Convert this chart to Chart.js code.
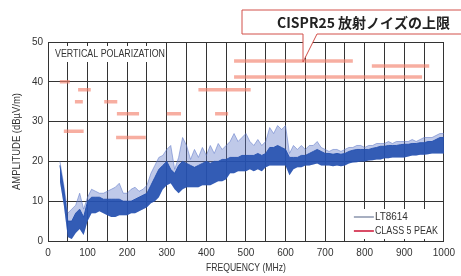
<!DOCTYPE html>
<html>
<head>
<meta charset="utf-8">
<script src="https://cdn.jsdelivr.net/npm/chart.js@4.4.0/dist/chart.umd.min.js"></script>
<style>
  body { margin: 0; background: #fff; }
  #wrap { width: 461px; height: 276px; }
</style>
</head>
<body>
<div id="wrap"><canvas id="chart" width="461" height="276"></canvas></div>
<script>
// frequency points (MHz)
const freq = [30,40,50,60,70,80,90,100,110,120,
  130,140,150,160,170,180,190,200,210,220,
  230,240,250,260,270,280,290,300,310,320,
  330,340,350,360,370,380,390,400,410,420,
  430,440,450,460,470,480,490,500,510,520,
  530,540,550,560,570,580,590,600,610,620,
  630,640,650,660,670,680,690,700,710,720,
  730,740,750,760,770,780,790,800,810,820,
  830,840,850,860,870,880,890,900,910,920,
  930,940,950,960,970,980,990,1000];

// LT8614 trace: bottom / top of the dense band, and the peaks above it (dBuV/m)
const coreLo = [15,9,1,0.5,2,3,1.5,5,7,7,
  7.5,7,6.5,6,6,6.5,6.5,6.5,7,7,
  7.5,8,8.5,9.5,10,11,13,14,14.5,13,
  12,13,13.5,13.5,13.5,13.5,14,14,14,14.5,
  15,15,15.5,17,17,17.5,17.5,17.5,18,17.5,
  18,17.5,18.5,19,19,19,19,19,16.5,18,
  18.5,18.5,19,19,19.2,19.5,19,19,19,18.8,
  19,18.8,19,19.5,19.7,19.8,20,20,20.2,20.3,
  20.5,20.5,20.8,20.8,21,21,21,21,21.2,21.5,
  21.5,21.7,21.7,21.8,22,22,22,22];
const coreHi = [19,13,5,5,7,8,6,10,11,11,
  11,10.5,10.5,10.5,10.5,10.5,10,10,10,10.5,
  11,11.5,12,14,16,18,19,20,18,17,
  19,20,19.5,19,18.5,19,19.5,20,19.5,20,
  20,20.5,20.5,21,21,21,21.5,21.5,21.5,21.5,
  22,21.5,22,23.5,23.5,24,23.5,23,21,21,
  21,21.5,21.5,22,22.5,23,22.5,22,22,21.8,
  22,21.8,22,22.5,22.8,23,23,23,23,23.3,
  23.5,23.8,23.8,24,24,24,24.2,24.3,24.3,24.5,
  24.5,24.7,24.7,25,25,25.5,26,26];
const peakHi = [20,14,7,8,9,12,8,11,13,12.5,
  12,12,12.5,13,13.5,14.5,12,12,13,13.5,
  12.5,13,14,17,19,21,21.5,23,24,18,
  21,26,24,20.5,23,21,23.5,21.5,24,22,
  24.5,23,24,25,27,25,26,27,25,24,
  25.5,24,25,28.5,27,29,28,29,22,24,
  23,24,23,24,24,25,23.5,23,22.5,23,
  23,22.5,23,23.5,23.5,24,24,23.5,24,24,
  24.5,24.5,24.5,25,24.5,25,25,25,25,25.5,
  25,25.5,26,26,26,26.5,27,27];

// CISPR25 class 5 peak limit segments
const limStart = [30, 68, 76, 40, 142, 174, 172, 300, 380, 422, 470, 470, 818];
const limEnd   = [55, 88, 108, 90, 175, 230, 247, 336, 512, 455, 770, 945, 963];
const limLevel = [40, 35, 38, 27.6, 35, 32, 26, 32, 38, 32, 45.2, 41.2, 44];

const xTicks = [0,100,200,300,400,500,600,700,800,900,1000];

const pts = arr => freq.map((f, i) => ({ x: f, y: arr[i] }));
let limData = [];
limStart.forEach((s, i) => {
  limData.push({ x: s, y: limLevel[i] }, { x: limEnd[i], y: limLevel[i] }, { x: limEnd[i], y: null });
});

const sans = '"Liberation Sans", Arial, sans-serif';

const decor = {
  id: 'decor',
  beforeDraw(chart) {
    const ctx = chart.ctx;
    ctx.save();
    ctx.fillStyle = '#fff';
    ctx.fillRect(0, 0, chart.width, chart.height);
    ctx.restore();
  },
  beforeDatasetsDraw(chart) {
    const ctx = chart.ctx, a = chart.chartArea;
    ctx.save();
    // white boxes over the grid
    ctx.fillStyle = '#fff';
    ctx.fillRect(a.left + 1, a.top + 4, 117, 16);
    ctx.fillRect(a.right - 96, a.bottom - 32, 95, 30);
    ctx.fillStyle = '#333';
    ctx.textBaseline = 'middle';
    ctx.font = '10px ' + sans;
    ctx.fillText('VERTICAL POLARIZATION', a.left + 7, a.top + 12, 110);
    // legend
    ctx.font = '11px ' + sans;
    ctx.lineWidth = 1.5;
    ctx.strokeStyle = '#8a94ad';
    ctx.beginPath(); ctx.moveTo(a.right - 90, a.bottom - 24); ctx.lineTo(a.right - 70, a.bottom - 24); ctx.stroke();
    ctx.strokeStyle = '#cc1133';
    ctx.beginPath(); ctx.moveTo(a.right - 90, a.bottom - 10); ctx.lineTo(a.right - 70, a.bottom - 10); ctx.stroke();
    ctx.fillText('LT8614', a.right - 69, a.bottom - 24, 33);
    ctx.fillText('CLASS 5 PEAK', a.right - 69, a.bottom - 10, 63);
    ctx.restore();
  },
  afterDraw(chart) {
    const ctx = chart.ctx, a = chart.chartArea;
    ctx.save();
    // axis titles (condensed)
    ctx.fillStyle = '#333';
    ctx.font = '11px ' + sans;
    ctx.textAlign = 'center';
    ctx.textBaseline = 'middle';
    ctx.fillText('FREQUENCY (MHz)', (a.left + a.right) / 2, 267.5, 80);
    ctx.save();
    ctx.translate(16.5, (a.top + a.bottom) / 2);
    ctx.rotate(-Math.PI / 2);
    ctx.fillText('AMPLITUDE (dBµV/m)', 0, 0, 97);
    ctx.restore();
    // callout
    ctx.beginPath();
    ctx.moveTo(242, 10);
    ctx.lineTo(470, 10);
    ctx.lineTo(470, 34);
    ctx.lineTo(317, 34);
    ctx.lineTo(303, 62);
    ctx.lineTo(303, 34);
    ctx.lineTo(242, 34);
    ctx.closePath();
    ctx.fillStyle = '#fff';
    ctx.fill();
    ctx.strokeStyle = '#d2504a';
    ctx.lineWidth = 1;
    ctx.stroke();
    ctx.fillStyle = '#222';
    ctx.textAlign = 'left';
    ctx.font = 'bold 14px "Noto Sans CJK JP", sans-serif';
    ctx.fillText('CISPR25 放射ノイズの上限', 277, 23);
    ctx.restore();
  }
};

new Chart(document.getElementById('chart'), {
  type: 'line',
  data: {
    datasets: [
      { label: 'lo', data: pts(coreLo), borderWidth: 0, pointRadius: 0, fill: false, order: 3 },
      { label: 'peak', data: pts(peakHi), borderColor: 'rgba(95,120,200,0.55)', borderWidth: 1,
        backgroundColor: 'rgba(95,120,200,0.4)', pointRadius: 0, fill: { target: 0 }, order: 2 },
      { label: 'LT8614', data: pts(coreHi), borderColor: 'rgba(35,80,175,0.9)', borderWidth: 1,
        backgroundColor: 'rgba(35,80,175,0.9)', pointRadius: 0, fill: { target: 0 }, order: 1 },
      { label: 'CLASS 5 PEAK', data: limData, borderColor: 'rgba(242,130,110,0.65)', borderWidth: 3.5,
        pointRadius: 0, fill: false, spanGaps: false, borderCapStyle: 'butt', order: 0 }
    ]
  },
  options: {
    responsive: false,
    animation: false,
    layout: { padding: { left: 0, right: 13, top: 42, bottom: 0 } },
    plugins: { legend: { display: false }, tooltip: { enabled: false } },
    scales: {
      x: {
        type: 'linear', min: 0, max: 1000,
        afterFit: s => { s.height = 35; },
        grid: { color: '#333', lineWidth: 1, drawTicks: false },
        border: { color: '#333' },
        ticks: {
          stepSize: 50, autoSkip: false, maxRotation: 0, padding: 6,
          color: '#333', font: { size: 10, family: sans },
          callback: v => xTicks.includes(v) ? String(v) : ''
        }
      },
      y: {
        min: 0, max: 50,
        afterFit: s => { s.width = 48; },
        grid: { color: '#333', lineWidth: 1, drawTicks: false },
        border: { color: '#333' },
        ticks: { stepSize: 10, padding: 5, color: '#333', font: { size: 10, family: sans } }
      }
    }
  },
  plugins: [decor]
});
</script>
</body>
</html>
